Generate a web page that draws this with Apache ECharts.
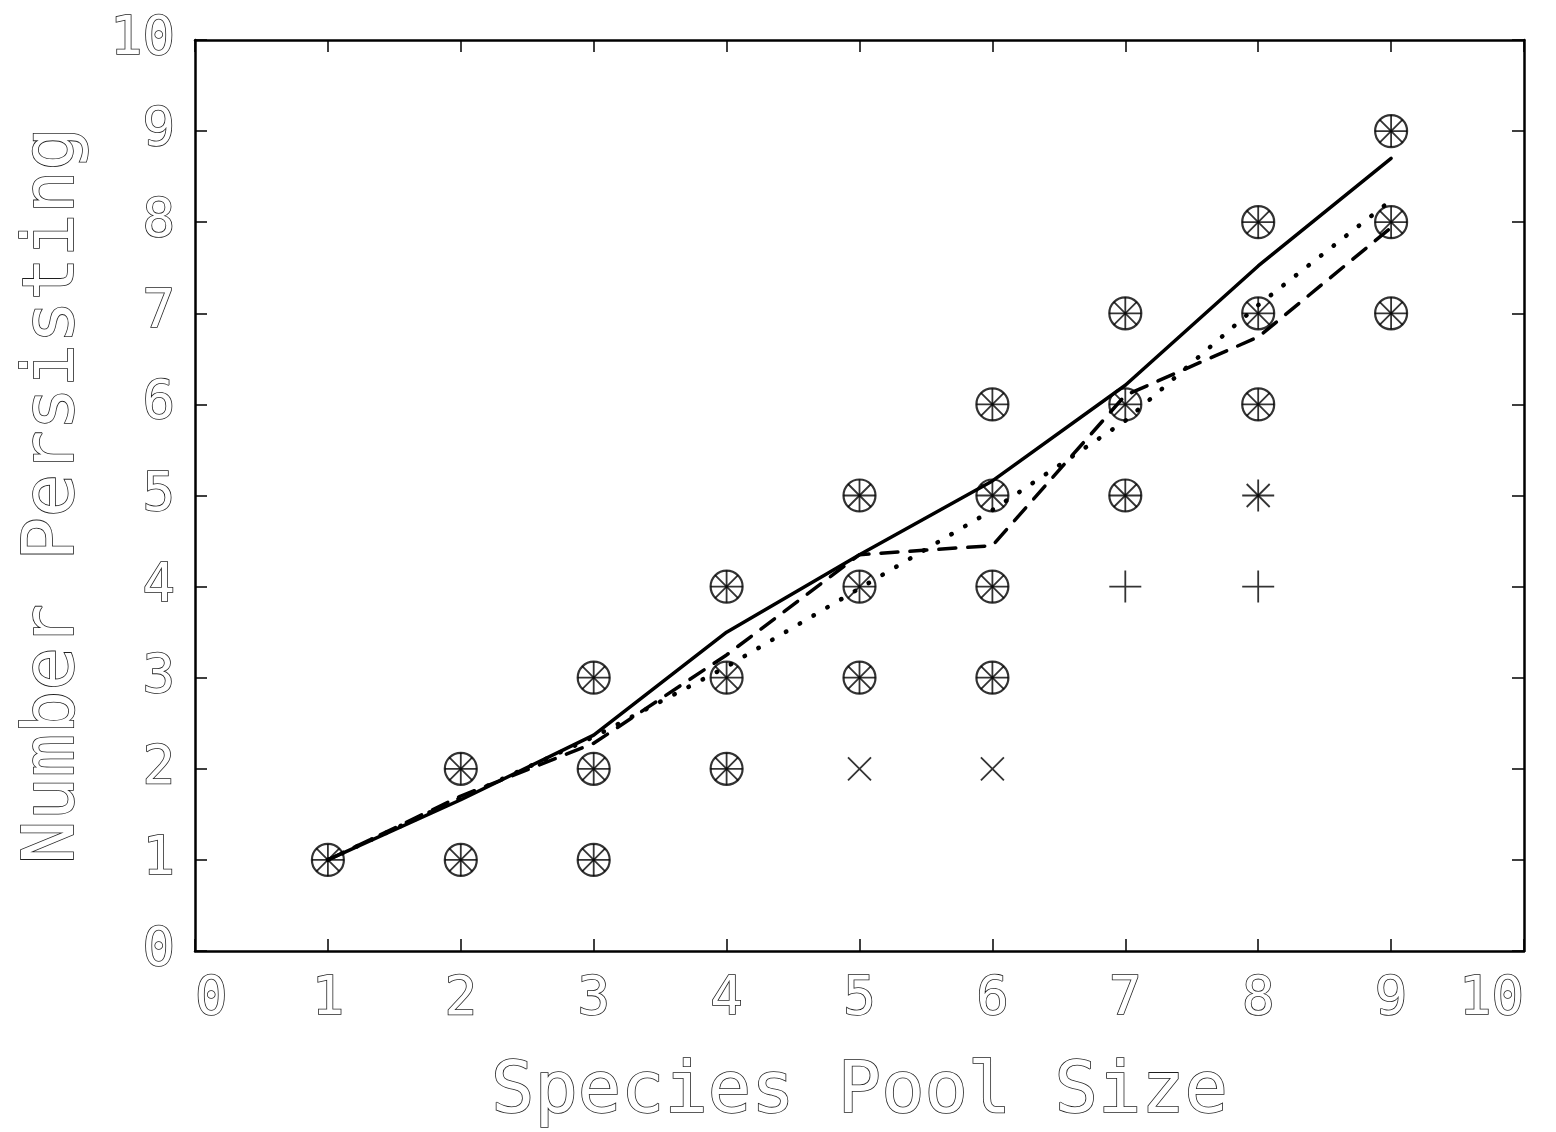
<!DOCTYPE html>
<html>
<head>
<meta charset="utf-8">
<script src="https://cdn.jsdelivr.net/npm/echarts@6/dist/echarts.min.js"></script>
<style>
  html, body { margin: 0; padding: 0; background: #fff; }
  #chart { width: 1556px; height: 1132px; }
</style>
</head>
<body>
<div id="chart"></div>
<script>
// species pool size on x, mean number persisting for the three runs
const poolSize = [1, 2, 3, 4, 5, 6, 7, 8, 9]
const solidMean = [1, 1.66, 2.37, 3.5, 4.35, 5.16, 6.21, 7.52, 8.7]
const dashedMean = [1, 1.7, 2.28, 3.25, 4.35, 4.45, 6.1, 6.74, 7.94]
const dottedMean = [1, 1.68, 2.35, 3.12, 3.98, 4.84, 5.82, 7.09, 8.24]

// individual outcomes: circles, plus and cross marks
const circlePts = [
  [1, 1], [2, 2], [2, 1], [3, 3], [3, 2], [3, 1], [4, 4], [4, 3], [4, 2],
  [5, 5], [5, 4], [5, 3], [6, 6], [6, 5], [6, 4], [6, 3], [7, 7], [7, 6], [7, 5],
  [8, 8], [8, 7], [8, 6], [9, 9], [9, 8], [9, 7]
]
const plusOnly = [[7, 4], [8, 4], [8, 5]]
const crossOnly = [[5, 2], [6, 2], [8, 5]]

const plusPts = circlePts.concat(plusOnly)
const crossPts = circlePts.concat(crossOnly)

const hollowText = {
  color: '#fff',
  textBorderColor: '#1e1e1e',
  textBorderWidth: 1.6,
  fontFamily: 'DejaVu Sans Mono'
}

const chart = echarts.init(document.getElementById('chart'))

const lineSeries = (data, type, dash) => ({
  type: 'line',
  data: poolSize.map((x, i) => [x, data[i]]),
  symbol: 'none',
  lineStyle: { color: '#000', width: type === 'dotted' ? 4.5 : 3.5, type: dash, cap: 'round' },
  z: 2
})

const frameAxis = {
  axisLine: { show: true, onZero: false, lineStyle: { color: '#000', width: 2.5 } },
  axisTick: { show: true, inside: true, length: 12, lineStyle: { color: '#000', width: 1.5 } },
  splitLine: { show: false }
}

const markStyle = { color: 'transparent', borderColor: '#000', borderWidth: 1.8 }

const option = {
  animation: false,
  backgroundColor: '#fff',
  grid: { left: 195, right: 32, top: 40, bottom: 181, outerBoundsMode: 'none', containLabel: false },
  xAxis: [
    Object.assign({
      type: 'value', min: 0, max: 10, interval: 1,
      name: 'Species Pool Size', nameLocation: 'middle', nameGap: 106,
      nameTextStyle: Object.assign({ fontSize: 72 }, hollowText),
      axisLabel: Object.assign({ fontSize: 54, margin: 22, alignMinLabel: 'left', alignMaxLabel: 'right' }, hollowText)
    }, frameAxis),
    Object.assign({
      type: 'value', min: 0, max: 10, interval: 1, position: 'top',
      axisLabel: { show: false }
    }, frameAxis)
  ],
  yAxis: [
    Object.assign({
      type: 'value', min: 0, max: 10, interval: 1,
      name: 'Number Persisting', nameLocation: 'middle', nameGap: 105, nameRotate: 90,
      nameTextStyle: Object.assign({ fontSize: 72 }, hollowText),
      axisLabel: Object.assign({ fontSize: 54, margin: 20 }, hollowText)
    }, frameAxis),
    Object.assign({
      type: 'value', min: 0, max: 10, interval: 1, position: 'right',
      axisLabel: { show: false }
    }, frameAxis)
  ],
  series: [
    lineSeries(solidMean, 'solid', 'solid'),
    lineSeries(dashedMean, 'dashed', [17, 12]),
    lineSeries(dottedMean, 'dotted', [0.5, 15.5]),
    {
      type: 'scatter', data: circlePts, symbol: 'circle', symbolSize: 32,
      itemStyle: { color: 'transparent', borderColor: '#000', borderWidth: 2.2 }, z: 3
    },
    {
      type: 'scatter', data: plusPts, symbol: 'path://M0,16L32,16M16,0L16,32', symbolSize: 32,
      itemStyle: markStyle, z: 4
    },
    {
      type: 'scatter', data: crossPts, symbol: 'path://M0,0L32,32M32,0L0,32', symbolSize: 23,
      itemStyle: markStyle, z: 4
    }
  ]
}

chart.setOption(option)
</script>
</body>
</html>
